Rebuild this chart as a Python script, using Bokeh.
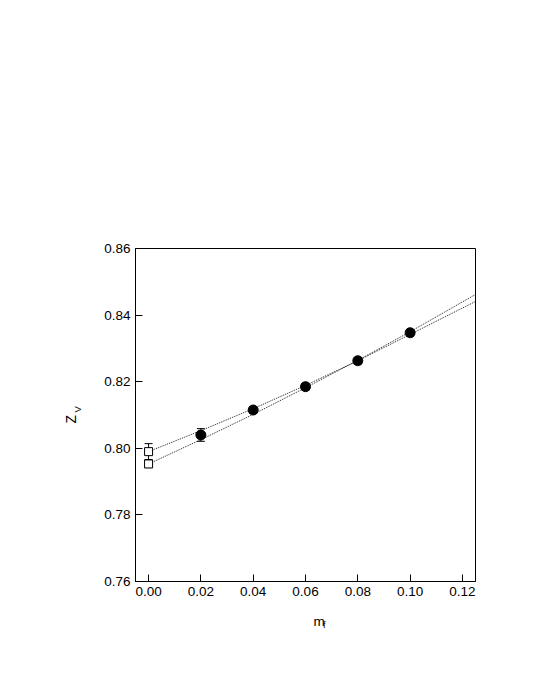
import math
from bokeh.plotting import figure
from bokeh.models import (ColumnDataSource, Whisker, TeeHead, Label, FixedTicker,
                          NumeralTickFormatter)
from bokeh.embed import file_html
from bokeh.resources import INLINE

# ---- data ----
mf_sim = [0.02, 0.04, 0.06, 0.08, 0.10]
zv_sim = [0.8040, 0.8115, 0.8185, 0.8263, 0.8347]
zv_sim_err = [0.0019, 0.0010, 0.0010, 0.0010, 0.0010]

mf_chiral = [0.0, 0.0]
zv_chiral = [0.7990, 0.7953]
zv_chiral_err = [0.0024, 0.0011]

fit_x = [0.0, 0.02, 0.04, 0.06, 0.08, 0.10, 0.125]
fit_a = [0.7990, 0.8053, 0.8119, 0.8189, 0.8263, 0.8342, 0.8441]
fit_b = [0.7953, 0.8026, 0.8102, 0.8182, 0.8264, 0.8350, 0.8462]

x_ticks = [0.0, 0.02, 0.04, 0.06, 0.08, 0.10, 0.12]
y_ticks = [0.76, 0.78, 0.80, 0.82, 0.84, 0.86]

# ---- layout ----
XMIN, XMAX = -0.005, 0.125
YMIN, YMAX = 0.76, 0.86
FW, FH = 340, 333
BL, BT, BR, BB = 135, 248, 52, 100
FONT = "Liberation Sans"

p = figure(frame_width=FW, frame_height=FH, x_range=(XMIN, XMAX), y_range=(YMIN, YMAX),
           output_backend="svg", toolbar_location=None,
           min_border_left=BL, min_border_top=BT, min_border_right=BR, min_border_bottom=BB)
p.background_fill_color = "white"
p.border_fill_color = "white"
p.outline_line_color = "black"
p.outline_line_width = 1
p.xgrid.visible = False
p.ygrid.visible = False

for ax in (p.xaxis[0], p.yaxis[0]):
    ax.major_tick_in = 7
    ax.major_tick_out = 0
    ax.minor_tick_in = 0
    ax.minor_tick_out = 0
    ax.axis_line_color = "black"
    ax.major_tick_line_color = "black"
    ax.major_label_text_font = FONT
    ax.major_label_text_font_size = "13.5px"
    ax.major_label_text_color = "black"
    ax.formatter = NumeralTickFormatter(format="0.00")
    ax.major_label_standoff = 5

p.xaxis[0].ticker = FixedTicker(ticks=x_ticks)
p.yaxis[0].ticker = FixedTicker(ticks=y_ticks)

# fit lines
p.line(fit_x, fit_a, line_color="#222222", line_width=1, line_dash="1 1")
p.line(fit_x, fit_b, line_color="#222222", line_width=1, line_dash="1 1")

# error bars
src_sim = ColumnDataSource(dict(x=mf_sim, y=zv_sim,
                                lo=[v - e for v, e in zip(zv_sim, zv_sim_err)],
                                hi=[v + e for v, e in zip(zv_sim, zv_sim_err)]))
src_ch = ColumnDataSource(dict(x=mf_chiral, y=zv_chiral,
                               lo=[v - e for v, e in zip(zv_chiral, zv_chiral_err)],
                               hi=[v + e for v, e in zip(zv_chiral, zv_chiral_err)]))
for s in (src_sim, src_ch):
    w = Whisker(source=s, base="x", lower="lo", upper="hi", dimension="height",
                line_color="black", line_width=1, level="underlay",
                upper_head=TeeHead(size=8, line_color="black", line_width=1),
                lower_head=TeeHead(size=8, line_color="black", line_width=1))
    p.add_layout(w)

p.scatter("x", "y", source=src_ch, marker="square", size=8, fill_color="white",
          line_color="black", line_width=1)
p.scatter("x", "y", source=src_sim, marker="circle", size=10, fill_color="black",
          line_color="black")

# axis titles, each in its own side panel (offsets relative to that panel)
lab = dict(x_units="screen", y_units="screen", text_font=FONT, text_color="black",
           text_align="left", text_baseline="alphabetic")
p.add_layout(Label(x=-14.5, y=158, text="Z", angle=math.pi / 2,
                   text_font_size="14px", **lab), "left")
p.add_layout(Label(x=3, y=169, text="V", angle=math.pi / 2,
                   text_font_size="9.5px", **lab), "left")
p.add_layout(Label(x=178, y=-8, text="m", text_font_size="13.5px", **lab), "below")
p.add_layout(Label(x=187.5, y=-1, text="f", text_font_size="9px", **lab), "below")

open("out.html", "w").write(file_html(p, INLINE))
